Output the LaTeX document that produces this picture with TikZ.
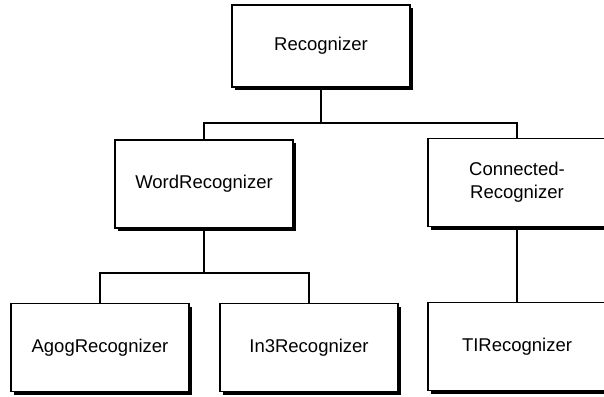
\documentclass[tikz,border=0pt]{standalone}
\usepackage{fontspec}
\setmainfont{Liberation Sans}
\usetikzlibrary{shadows}
\begin{document}
\begin{tikzpicture}[x=1pt,y=-1pt,line width=1.5pt,
	cls/.style={rectangle,draw,fill=white,inner sep=0,minimum width=178pt,minimum height=88pt,align=center,font=\fontsize{18.5}{23}\selectfont,
	drop shadow={shadow xshift=3pt,shadow yshift=-3pt,opacity=1,fill=black}}]
	\clip (0,0) rectangle (604,396);
	\fill[white] (0,0) rectangle (604,396);
	\node (1) [cls,minimum height=82pt] at (321,46) {Recognizer};
	\node (21) [cls] at (204,184) {WordRecognizer};
	\node (22) [cls] at (517,182.5) {Connected-\\Recognizer};
	\node (31) [cls] at (100,347.5) {AgogRecognizer};
	\node (32) [cls] at (309,347.5) {In3Recognizer};
	\node (33) [cls] at (517,346.5) {TIRecognizer};
	\draw [-,line width=2pt] (1.south) -- ++(0,35) -| (21.north);
	\draw [-,line width=2pt] (1.south) -- ++(0,35) -| (22.north);
	\draw [-,line width=2pt] (21.south) -- ++(0,44) -| (31.north);
	\draw [-,line width=2pt] (21.south) -- ++(0,44) -| (32.north);
	\draw [-,line width=2pt] (22.south) -- (33.north);
\end{tikzpicture}
\end{document}
